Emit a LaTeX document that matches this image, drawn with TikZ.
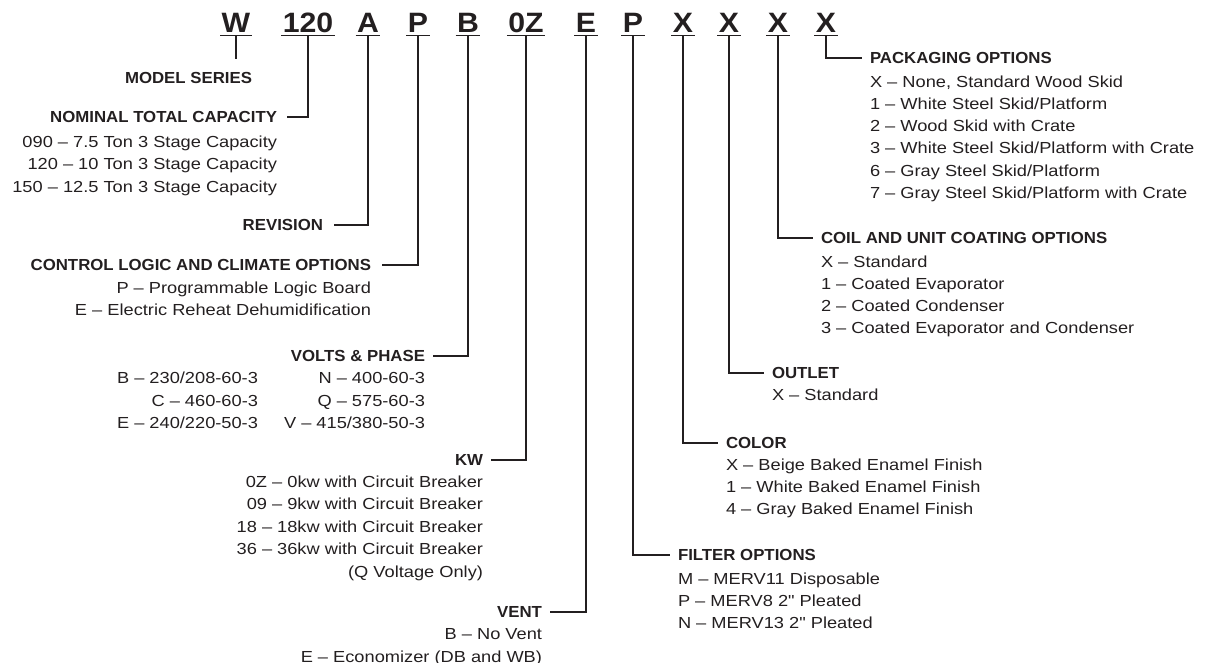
\documentclass[tikz,border=0pt]{standalone}
\usepackage{fontspec}
\newfontfamily\rf[FakeStretch=1.14]{Liberation Sans}
\newfontfamily\hf[FakeStretch=1.05]{Liberation Sans}
\newfontfamily\cf[FakeStretch=1.08]{Liberation Sans}
\definecolor{ink}{HTML}{231F20}
\begin{document}
\begin{tikzpicture}[x=1pt,y=-1pt,
  every node/.style={inner sep=0pt, outer sep=0pt, text=ink},
  code/.style={font=\cf\bfseries\fontsize{28}{28}\selectfont, anchor=base},
  headL/.style={font=\hf\bfseries\fontsize{16}{16}\selectfont, anchor=base east},
  headR/.style={font=\hf\bfseries\fontsize{16}{16}\selectfont, anchor=base west},
  itemL/.style={font=\rf\fontsize{16}{16}\selectfont, anchor=base east},
  itemR/.style={font=\rf\fontsize{16}{16}\selectfont, anchor=base west},
  lead/.style={draw=ink, line width=1.8pt},
  uline/.style={draw=ink, line width=1pt}]
\useasboundingbox (0,0) rectangle (1206,663);
\coordinate (ul) at (0,35.5);
% code letters
\node[code] (cW)   at (236,33) {W};
\node[code] (c120) at (308,33) {120};
\node[code] (cA)   at (368,33) {A};
\node[code] (cP)   at (418,33) {P};
\node[code] (cB)   at (468,33) {B};
\node[code] (cOZ)  at (526,33) {0Z};
\node[code] (cE)   at (586,33) {E};
\node[code] (cF)   at (633,33) {P};
\node[code] (cX1)  at (683,33) {X};
\node[code] (cX2)  at (729,33) {X};
\node[code] (cX3)  at (778,33) {X};
\node[code] (cX4)  at (826,33) {X};
\foreach \n in {cW,c120,cA,cP,cB,cOZ,cE,cF,cX1,cX2,cX3,cX4}
  \draw[uline] ([xshift=-1.5pt]\n.west |- ul) -- ([xshift=1.5pt]\n.east |- ul);

% ---- left side ----
\node[headL] (ms) at (252,83.7) {MODEL SERIES};
\coordinate (wend) at (236,59);
\draw[lead] (cW.base |- ul) -- (wend);

\node[headL] (ntc) at (277,122.7) {NOMINAL TOTAL CAPACITY};
\node[itemL] (ntc1) at (277,147.7) {090 – 7.5 Ton 3 Stage Capacity};
\node[itemL] (ntc2) at (277,169.7) {120 – 10 Ton 3 Stage Capacity};
\node[itemL] (ntc3) at (277,192.7) {150 – 12.5 Ton 3 Stage Capacity};
\draw[lead] (c120.base |- ul) |- ([xshift=10pt]ntc.east);

\node[headL] (rev) at (323,230.7) {REVISION};
\draw[lead] (cA.base |- ul) |- ([xshift=11pt]rev.east);

\node[headL] (ctl) at (371,270.7) {CONTROL LOGIC AND CLIMATE OPTIONS};
\node[itemL] (ctl1) at (371,293.7) {P – Programmable Logic Board};
\node[itemL] (ctl2) at (371,315.7) {E – Electric Reheat Dehumidification};
\draw[lead] (cP.base |- ul) |- ([xshift=11pt]ctl.east);

\node[headL] (vp) at (425,361.7) {VOLTS \& PHASE};
\node[itemL] (vpa1) at (258,383.7) {B – 230/208-60-3};
\node[itemL] (vpa2) at (258,406.7) {C – 460-60-3};
\node[itemL] (vpa3) at (258,428.7) {E – 240/220-50-3};
\node[itemL] (vpb1) at (425,383.7) {N – 400-60-3};
\node[itemL] (vpb2) at (425,406.7) {Q – 575-60-3};
\node[itemL] (vpb3) at (425,428.7) {V – 415/380-50-3};
\draw[lead] (cB.base |- ul) |- ([xshift=8pt]vp.east);

\node[headL] (kw) at (483,465.7) {KW};
\node[itemL] (kw1) at (483,487.7) {0Z – 0kw with Circuit Breaker};
\node[itemL] (kw2) at (483,509.7) {09 – 9kw with Circuit Breaker};
\node[itemL] (kw3) at (483,532.7) {18 – 18kw with Circuit Breaker};
\node[itemL] (kw4) at (483,554.7) {36 – 36kw with Circuit Breaker};
\node[itemL] (kw5) at (483,577.7) {(Q Voltage Only)};
\draw[lead] (cOZ.base |- ul) |- ([xshift=8pt]kw.east);

\node[headL] (vent) at (542,617.7) {VENT};
\node[itemL] (vent1) at (542,639.7) {B – No Vent};
\node[itemL] (vent2) at (542,662.7) {E – Economizer (DB and WB)};
\draw[lead] (cE.base |- ul) |- ([xshift=8pt]vent.east);

% ---- right side ----
\node[headR] (fil) at (678,560.7) {FILTER OPTIONS};
\node[itemR] (fil1) at (678,584.7) {M – MERV11 Disposable};
\node[itemR] (fil2) at (678,606.7) {P – MERV8 2" Pleated};
\node[itemR] (fil3) at (678,628.7) {N – MERV13 2" Pleated};
\draw[lead] (cF.base |- ul) |- ([xshift=-8pt]fil.west);

\node[headR] (col) at (726,448.7) {COLOR};
\node[itemR] (col1) at (726,470.7) {X – Beige Baked Enamel Finish};
\node[itemR] (col2) at (726,492.7) {1 – White Baked Enamel Finish};
\node[itemR] (col3) at (726,514.7) {4 – Gray Baked Enamel Finish};
\draw[lead] (cX1.base |- ul) |- ([xshift=-8pt]col.west);

\node[headR] (out) at (772,378.7) {OUTLET};
\node[itemR] (out1) at (772,400.7) {X – Standard};
\draw[lead] (cX2.base |- ul) |- ([xshift=-8pt]out.west);

\node[headR] (coil) at (821,243.7) {COIL AND UNIT COATING OPTIONS};
\node[itemR] (coil1) at (821,267.7) {X – Standard};
\node[itemR] (coil2) at (821,289.7) {1 – Coated Evaporator};
\node[itemR] (coil3) at (821,311.7) {2 – Coated Condenser};
\node[itemR] (coil4) at (821,333.7) {3 – Coated Evaporator and Condenser};
\draw[lead] (cX3.base |- ul) |- ([xshift=-8pt]coil.west);

\node[headR] (pk) at (870,63.7) {PACKAGING OPTIONS};
\node[itemR] (pk1) at (870,87.7) {X – None, Standard Wood Skid};
\node[itemR] (pk2) at (870,109.7) {1 – White Steel Skid/Platform};
\node[itemR] (pk3) at (870,131.7) {2 – Wood Skid with Crate};
\node[itemR] (pk4) at (870,153.7) {3 – White Steel Skid/Platform with Crate};
\node[itemR] (pk5) at (870,176.7) {6 – Gray Steel Skid/Platform};
\node[itemR] (pk6) at (870,198.7) {7 – Gray Steel Skid/Platform with Crate};
\draw[lead] (cX4.base |- ul) |- ([xshift=-8pt]pk.west);
\end{tikzpicture}
\end{document}
